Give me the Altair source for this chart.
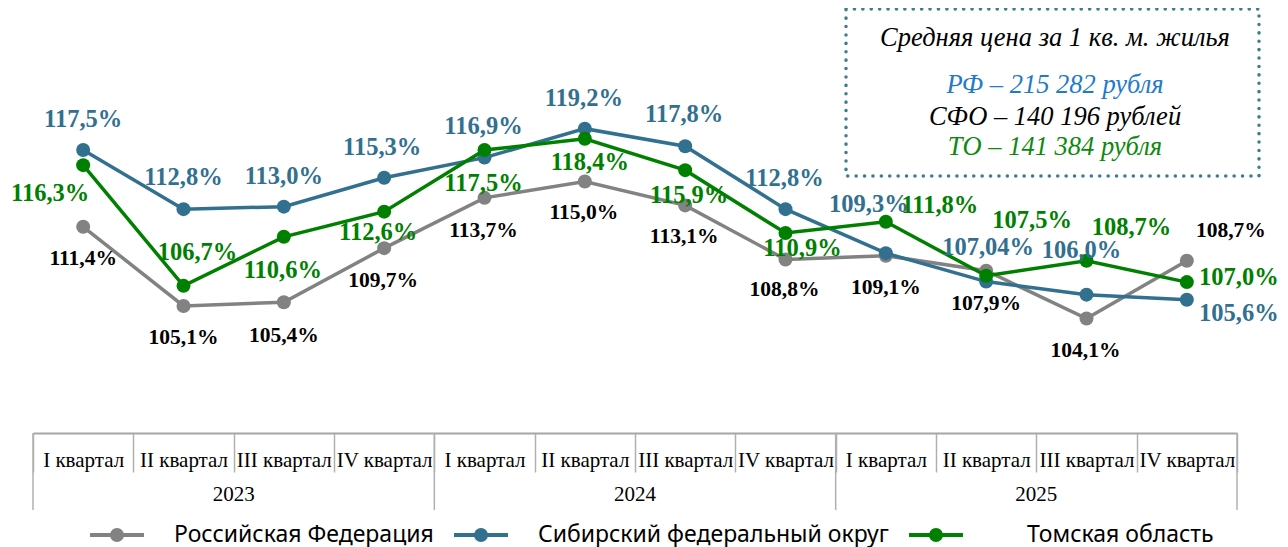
import altair as alt
import pandas as pd

YEARS = ["2023", "2024", "2025"]
QUARTERS = ["I квартал", "II квартал", "III квартал", "IV квартал"]
SERIES = ["Российская Федерация", "Сибирский федеральный округ", "Томская область"]

RF = [111.4, 105.1, 105.4, 109.7, 113.7, 115.0, 113.1, 108.8, 109.1, 107.9, 104.1, 108.7]
SFO = [117.5, 112.8, 113.0, 115.3, 116.9, 119.2, 117.8, 112.8, 109.3, 107.04, 106.0, 105.6]
TO = [116.3, 106.7, 110.6, 112.6, 117.5, 118.4, 115.9, 110.9, 111.8, 107.5, 108.7, 107.0]

BOX_TITLE = "Средняя цена за 1 кв. м. жилья"
BOX_LINES = ["РФ – 215 282 рубля", "СФО – 140 196 рублей", "ТО – 141 384 рубля"]

# label placement nudges (pixels) for each point's value label
NUDGE_DX = [
    [0, 0, 0, -1, -1, -1, -1, -1, 0, 0, -1, 44],
    [0, 0, 0, -2, -1, -1, -1, -1, -17, 2, -5, 52],
    [-33, 14, -1, -6, -1, 5, 4, 17, 54, 46, 45, 52],
]
NUDGE_DY = [
    [32, 32, 34, 33, 33, 32, 32, 31, 32, 33, 32, -30],
    [-30, -31, -30, -30, -31, -30, -31, -30, -48, -34, -44, 14],
    [29, -33, 34, 21, 34, 24, 26, 16, -16, -55, -33, -4],
]

COLORS = ["#828282", "#31708f", "#008000"]
LABEL_COLORS = ["#000000", "#31708f", "#008000"]
LABEL_SIZES = [21.5, 24.5, 24.5]
BOX_COLORS = ["#1f7bc9", "#000000", "#0d8a0d"]

PERIODS = [f"{y}|{q}" for y in YEARS for q in QUARTERS]

PLOT_W, PLOT_H = 1204, 415
BAND = PLOT_W / len(PERIODS)
Y_MIN, Y_MAX = 95, 128
PX = PLOT_H / (Y_MAX - Y_MIN)

rows = []
for si, (s, vals) in enumerate(zip(SERIES, [RF, SFO, TO])):
    for pi, (p, v) in enumerate(zip(PERIODS, vals)):
        rows.append(dict(
            series=s, period=p, value=v,
            label=str(v).replace(".", ",") + "%",
            ndx=NUDGE_DX[si][pi] + BAND / 2,
            label_value=v - NUDGE_DY[si][pi] / PX,
        ))
df = pd.DataFrame(rows)

AXIS = alt.Axis(
    title=None, labelExpr="split(datum.value, '|')[1]", labelAngle=0,
    labelFont="Liberation Serif", labelFontSize=21, labelColor="#000000",
    labelPadding=-23, labelLimit=300, labelOverlap=False,
    domainColor="#a6a6a6", domainWidth=2,
    tickColor="#b0b0b0", tickWidth=1.5, tickSize=39, tickBand="extent",
    grid=False,
)
XSCALE = alt.Scale(domain=PERIODS, paddingInner=0, paddingOuter=0)


def xenc(**kw):
    return alt.X("period:N", sort=PERIODS, scale=XSCALE, axis=AXIS, **kw)


yscale = alt.Scale(domain=[Y_MIN, Y_MAX], nice=False, zero=False)
cscale = alt.Scale(domain=SERIES, range=COLORS)

SYMBOL = ("M-1,0L1,0"
          "M0.185,0A0.185,0.185,0,1,1,-0.185,0A0.185,0.185,0,1,1,0.185,0Z"
          "M0.074,0A0.074,0.074,0,1,1,-0.074,0A0.074,0.074,0,1,1,0.074,0Z")

LEGEND = alt.Legend(
    orient="none", legendX=55, legendY=488, direction="horizontal", title=None,
    symbolType=SYMBOL, symbolSize=2916, symbolStrokeWidth=4, symbolOpacity=1,
    labelFont="Noto Sans", labelFontSize=23, labelColor="#000000",
    labelOffset=28, columnPadding=12, labelLimit=600,
    labelExpr="datum.index == 2 ? '\u2800\u2800' + datum.label : datum.label",
)

layers = []
for i, s in enumerate(SERIES):
    base = alt.Chart(df).transform_filter(alt.datum.series == s)
    layers.append(base.mark_line(strokeWidth=3.5).encode(
        x=xenc(), y=alt.Y("value:Q", scale=yscale, axis=None),
        color=alt.Color("series:N", scale=cscale, legend=LEGEND if i == 0 else None)))
    layers.append(base.mark_circle(size=196, opacity=1).encode(
        x=xenc(), y=alt.Y("value:Q", scale=yscale, axis=None),
        color=alt.Color("series:N", scale=cscale, legend=None)))

for i, s in enumerate(SERIES):
    base = alt.Chart(df).transform_filter(alt.datum.series == s)
    layers.append(base.mark_text(
        font="Liberation Serif", fontWeight="bold", fontSize=LABEL_SIZES[i],
        color=LABEL_COLORS[i], align="center", baseline="middle").encode(
        x=xenc(), xOffset=alt.XOffset("ndx:Q", scale=None),
        y=alt.Y("label_value:Q", scale=yscale, axis=None),
        text="label:N"))

# table lines and year labels
starts = pd.DataFrame({"period": [f"{y}|{QUARTERS[0]}" for y in YEARS]})
ends = pd.DataFrame({"period": [PERIODS[-1]]})
mids = pd.DataFrame({"period": [f"{y}|{QUARTERS[1]}" for y in YEARS], "year": YEARS})

layers.append(alt.Chart(starts).mark_rule(color="#b0b0b0", strokeWidth=1.5).encode(
    x=xenc(bandPosition=0), y=alt.value(PLOT_H), y2=alt.value(PLOT_H + 77)))
layers.append(alt.Chart(ends).mark_rule(color="#b0b0b0", strokeWidth=1.5).encode(
    x=xenc(bandPosition=1), y=alt.value(PLOT_H), y2=alt.value(PLOT_H + 77)))
layers.append(alt.Chart(mids).mark_text(
    font="Liberation Serif", fontSize=21, color="#000000", baseline="middle").encode(
    x=xenc(bandPosition=1), y=alt.value(PLOT_H + 62), text="year:N"))

# info box
one = pd.DataFrame({"k": [0]})
layers.append(alt.Chart(one).mark_rect(
    fill="white", fillOpacity=0, stroke="#3b7f8d", strokeWidth=3.5,
    strokeDash=[0.1, 8.3], strokeCap="round").encode(
    x=alt.value(813), x2=alt.value(1226), y=alt.value(-9), y2=alt.value(158)))
box_rows = pd.DataFrame({
    "text": [BOX_TITLE] + BOX_LINES,
    "color": ["#000000"] + BOX_COLORS,
    "row": [0, 1, 2, 3],
})
BOX_Y = [28, 75, 107, 137]
for r in range(4):
    layers.append(alt.Chart(box_rows).transform_filter(alt.datum.row == r).mark_text(
        font="Liberation Serif", fontStyle="italic", fontSize=26.5,
        color=box_rows["color"][r], align="center", baseline="alphabetic").encode(
        x=alt.value(1022), y=alt.value(BOX_Y[r]), text="text:N"))

chart = alt.layer(*layers).properties(
    width=PLOT_W, height=PLOT_H,
    autosize=alt.AutoSizeParams(type="none"),
    padding={"left": 25, "top": 10, "right": 43, "bottom": 118},
).configure_view(stroke=None)

chart.save("out.html", embed_options={"renderer": "svg", "actions": False})
